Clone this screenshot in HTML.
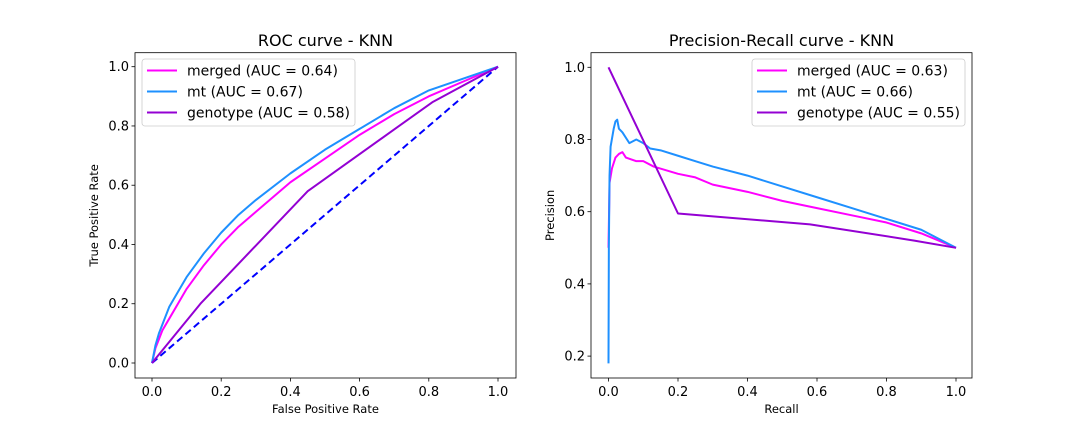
<!DOCTYPE html>
<html><head><meta charset="utf-8"><style>
body{margin:0;background:#fff}
svg text{font-family:"DejaVu Sans","Liberation Sans",sans-serif;fill:#000}
</style></head><body>
<svg id="fig" width="1080" height="432" viewBox="0 0 1080 432" xmlns="http://www.w3.org/2000/svg"></svg>
<script>
const rocTicks=[0,0.2,0.4,0.6,0.8,1.0];
const prYTicks=[0.2,0.4,0.6,0.8,1.0];
const rocMergedX=[0,0.01,0.02,0.03,0.05,0.075,0.1,0.15,0.2,0.25,0.3,0.4,0.5,0.6,0.7,0.8,0.9,1];
const rocMergedY=[0,0.05,0.08,0.11,0.15,0.2,0.25,0.33,0.4,0.46,0.51,0.61,0.69,0.77,0.84,0.9,0.95,1];
const rocMtX=[0,0.01,0.02,0.03,0.05,0.075,0.1,0.15,0.2,0.25,0.3,0.4,0.5,0.6,0.7,0.8,0.9,1];
const rocMtY=[0,0.06,0.1,0.13,0.19,0.24,0.29,0.37,0.44,0.5,0.55,0.64,0.72,0.79,0.86,0.92,0.96,1];
const rocGenoX=[0,0.14,0.45,0.81,1];
const rocGenoY=[0,0.2,0.58,0.88,1];
const prMtX=[0,0.001,0.003,0.006,0.015,0.02,0.025,0.03,0.04,0.06,0.08,0.1,0.12,0.15,0.2,0.25,0.3,0.4,0.5,0.6,0.7,0.8,0.9,1];
const prMtY=[0.18,0.5,0.7,0.78,0.83,0.85,0.855,0.83,0.82,0.79,0.8,0.79,0.775,0.77,0.755,0.74,0.725,0.7,0.67,0.64,0.61,0.58,0.55,0.5];
const prMergedX=[0,0.003,0.01,0.02,0.03,0.04,0.05,0.08,0.1,0.13,0.2,0.25,0.3,0.4,0.5,0.6,0.7,0.8,0.9,1];
const prMergedY=[0.5,0.68,0.72,0.75,0.76,0.765,0.75,0.74,0.74,0.725,0.705,0.695,0.675,0.655,0.63,0.61,0.59,0.57,0.54,0.5];
const prGenoX=[0,0.2,0.58,0.88,1];
const prGenoY=[1,0.595,0.565,0.52,0.5];

const svg=document.getElementById('fig');
const NS='http://www.w3.org/2000/svg';
function mk(tag,attrs,parent){const e=document.createElementNS(NS,tag);for(const k in attrs)e.setAttribute(k,attrs[k]);(parent||svg).appendChild(e);return e;}
function txt(s,x,y,size,anchor,parent,rot){const t=mk('text',{x:x,y:y,'font-size':size,'text-anchor':anchor||'middle'},parent);if(rot)t.setAttribute('transform','rotate(-90 '+x+' '+y+')');t.textContent=s;return t;}

function panel(cfg){
  const g=mk('g',{});
  
  
  const sx=v=>cfg.x0+(v-cfg.xmin)/(cfg.xmax-cfg.xmin)*(cfg.x1-cfg.x0);
  const sy=v=>cfg.y0+(v-cfg.ymin)/(cfg.ymax-cfg.ymin)*(cfg.y1-cfg.y0);
  cfg.xt.forEach(v=>{mk('line',{x1:sx(v),x2:sx(v),y1:cfg.bot,y2:cfg.bot+3.5,stroke:'#000','stroke-width':0.8},g);const t=txt(v.toFixed(1),sx(v),cfg.bot+18,13,'middle',g);});
  cfg.yt.forEach(v=>{mk('line',{x1:cfg.left-3.5,x2:cfg.left,y1:sy(v),y2:sy(v),stroke:'#000','stroke-width':0.8},g);const t=txt(v.toFixed(1),cfg.left-6,sy(v)+4.5,13,'end',g);});
  cfg.series.forEach(s=>{
    const d=s.x.map((v,i)=>(i?'L':'M')+sx(v).toFixed(2)+' '+sy(s.y[i]).toFixed(2)).join(' ');
    const p=mk('path',{d:d,fill:'none',stroke:s.c,'stroke-width':2,'stroke-linejoin':'round'},g);
    if(s.dash)p.setAttribute('stroke-dasharray','7,4');
    
    
  });
  const fr=mk('rect',{x:cfg.left,y:cfg.top,width:cfg.right-cfg.left,height:cfg.bot-cfg.top,fill:'none',stroke:'#000','stroke-width':0.8},g);
  
  const tt=txt(cfg.title,(cfg.left+cfg.right)/2,46,16,'middle',g);
  const xl=txt(cfg.xlabel,(cfg.left+cfg.right)/2,413,11.5,'middle',g);
  const yl=txt(cfg.ylabel,cfg.ylx,(cfg.top+cfg.bot)/2,11.5,'middle',g,true);
  const lg=mk('g',{},g);
  
  mk('rect',{x:cfg.lx,y:59,width:cfg.lw,height:67,rx:3,fill:'#fff','fill-opacity':0.8,stroke:'#ccc','stroke-width':0.8},lg);
  cfg.legend.forEach((e,i)=>{
    const yy=70.5+i*21;
    const it=mk('g',{},lg);
    
    mk('line',{x1:cfg.lx+5,x2:cfg.lx+35,y1:yy,y2:yy,stroke:e[1],'stroke-width':2},it);
    txt(e[0],cfg.lx+45,yy+5,14,'start',it);
  });
}
const leg1=[['merged (AUC = 0.64)','#ff00ff'],['mt (AUC = 0.67)','#1e90ff'],['genotype (AUC = 0.58)','#9400d3']];
panel({name:'roc-panel',left:135,right:516,top:52.7,bot:378,x0:152,x1:498,xmin:0,xmax:1,y0:363,y1:66.7,ymin:0,ymax:1,
  xt:rocTicks,yt:rocTicks,title:'ROC curve - KNN',xlabel:'False Positive Rate',ylabel:'True Positive Rate',ylx:98,
  lx:142,lw:213,legend:leg1,
  series:[{x:[0,1],y:[0,1],c:'#0000ff',dash:true,n:'chance-line'},
    {x:rocMergedX,y:rocMergedY,c:'#ff00ff',n:'roc-merged'},{x:rocMtX,y:rocMtY,c:'#1e90ff',n:'roc-mt'},{x:rocGenoX,y:rocGenoY,c:'#9400d3',n:'roc-genotype'}]});
const leg2=[['merged (AUC = 0.63)','#ff00ff'],['mt (AUC = 0.66)','#1e90ff'],['genotype (AUC = 0.55)','#9400d3']];
panel({name:'pr-panel',left:591,right:972,top:52.7,bot:378,x0:608.5,x1:956,xmin:0,xmax:1,y0:211.7,y1:67.3,ymin:0.6,ymax:1,
  xt:rocTicks,yt:prYTicks,title:'Precision-Recall curve - KNN',xlabel:'Recall',ylabel:'Precision',ylx:554,
  lx:752,lw:213,legend:leg2,
  series:[{x:prMergedX,y:prMergedY,c:'#ff00ff',n:'pr-merged'},{x:prMtX,y:prMtY,c:'#1e90ff',n:'pr-mt'},{x:prGenoX,y:prGenoY,c:'#9400d3',n:'pr-genotype'}]});
</script>
</body></html>
